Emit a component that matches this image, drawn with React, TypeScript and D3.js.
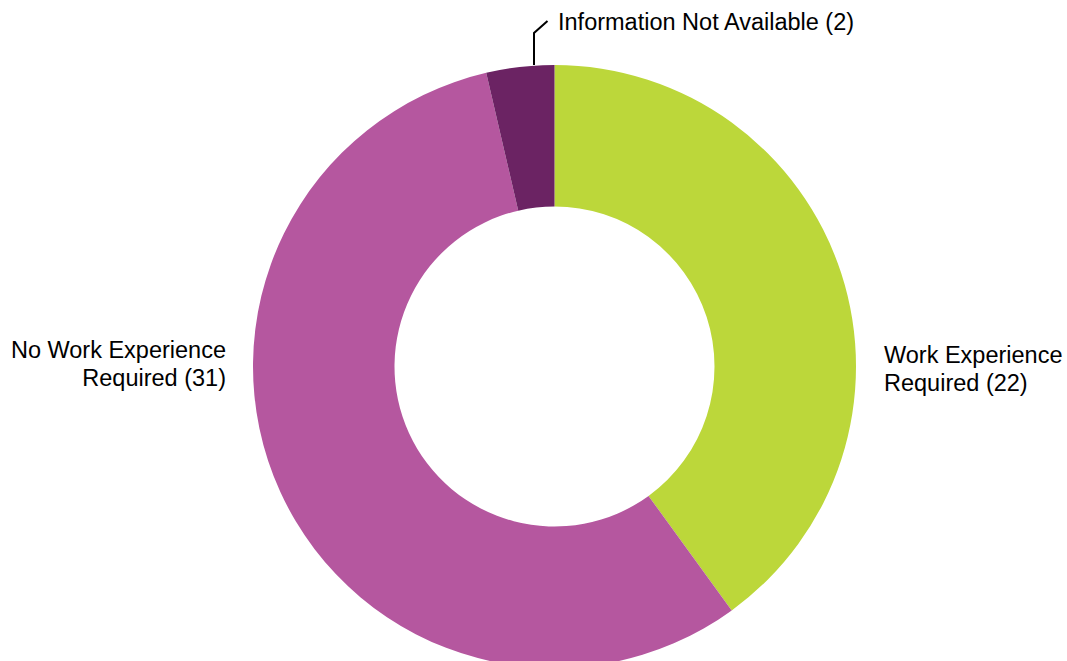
import React from "react";
import * as d3 from "d3";

const categories = ["Work Experience Required", "No Work Experience Required", "Information Not Available"];
const values = [22, 31, 2];
const colors = ["#BCD73A", "#B5579F", "#6B2363"];

const W = 1067;
const H = 661;
const cx = 554.5;
const cy = 366.5;
const R = 301.5;
const r = 160;
const FONT = "'Liberation Sans', Arial, sans-serif";
const FS = 23.5;

export default function App() {
  const pie = d3.pie<number>().sort(null).startAngle(0).endAngle(2 * Math.PI);
  const arcs = pie(values);
  const arc = d3.arc<d3.PieArcDatum<number>>().innerRadius(r).outerRadius(R);

  return (
    <svg
      width={W}
      height={H}
      style={{ position: "absolute", left: 0, top: 0, background: "#fff" }}
      fontFamily={FONT}
    >
      <g transform={`translate(${cx},${cy})`}>
        {arcs.map((a, i) => (
          <path key={i} d={arc(a) || ""} fill={colors[i]} />
        ))}
      </g>
      <polyline
        points={`${cx - 20.5},${cy - R} ${cx - 20.5},${33} ${cx - 7},${21}`}
        fill="none"
        stroke="#000"
        strokeWidth={2}
      />
      <text x={558} y={30} fontSize={FS} fill="#000">
        {`${categories[2]} (${values[2]})`}
      </text>
      <text fontSize={FS} fill="#000">
        <tspan x={884} y={363}>Work Experience</tspan>
        <tspan x={884} y={391}>{`Required (${values[0]})`}</tspan>
      </text>
      <text fontSize={FS} fill="#000" textAnchor="end">
        <tspan x={226} y={358}>No Work Experience</tspan>
        <tspan x={226} y={386}>{`Required (${values[1]})`}</tspan>
      </text>
    </svg>
  );
}
